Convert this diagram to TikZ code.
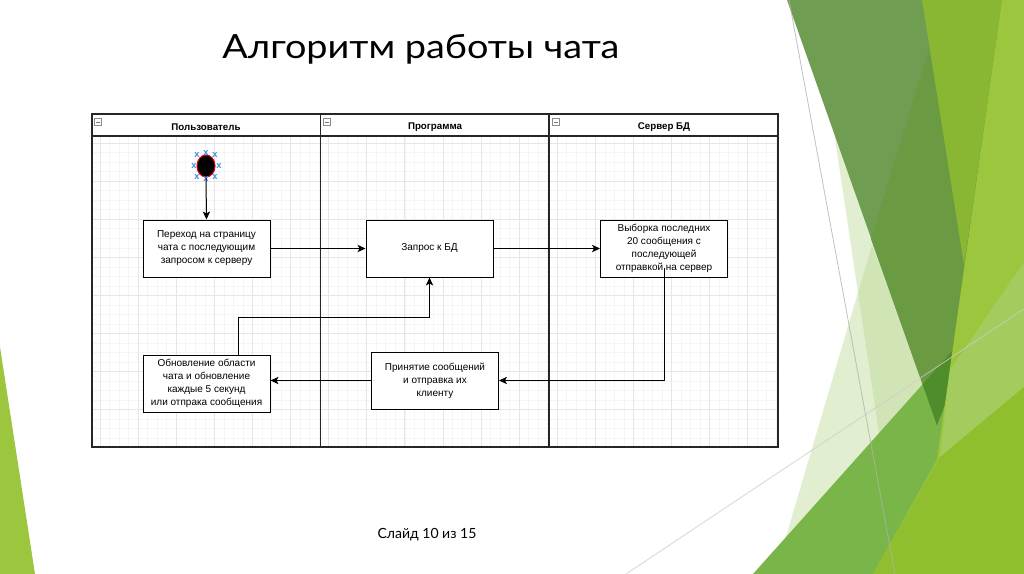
\documentclass[tikz,border=0pt]{standalone}
\usepackage{fontspec}
\usepackage{graphicx}
\setmainfont{Liberation Sans}
\newfontfamily\titlefont{Lato}
\usetikzlibrary{arrows.meta,calc,shapes.geometric}
\definecolor{olive}{HTML}{6F9D51}
\definecolor{oliveB}{HTML}{6A9A41}
\definecolor{darkest}{HTML}{4F8D2B}
\definecolor{medgreen}{HTML}{79B548}
\definecolor{ygreen}{HTML}{8AB733}
\definecolor{lime}{HTML}{9CC63D}
\definecolor{limeL}{HTML}{A4CB5E}
\definecolor{limeD}{HTML}{8FBF2F}
\definecolor{paleG}{RGB}{190,218,150}
\definecolor{gridmaj}{HTML}{E6E6E6}
\definecolor{gridmin}{HTML}{F5F5F5}
\definecolor{xblue}{HTML}{3A8EE6}
\tikzset{
  lane/.style={draw=black!85, line width=0.8pt},
  boxn/.style={draw=black, line width=0.75pt, fill=white, minimum width=95.25pt, minimum height=42.75pt, inner sep=1pt, align=center, font=\fontsize{7.5}{9.75}\selectfont},
  hdr/.style={font=\fontsize{7.3}{9}\selectfont\bfseries, inner sep=0pt},
  icon/.style={draw=black!45, fill=white, line width=0.4pt, minimum size=5pt, inner sep=0pt,
    path picture={\draw[black!55, line width=0.5pt] ([xshift=1.2pt]path picture bounding box.west) -- ([xshift=-1.2pt]path picture bounding box.east);}},
  arr/.style={draw=black, line width=0.75pt, -{Stealth[length=6pt,width=5.5pt,inset=1.5pt]}},
  xmark/.style={text=xblue, font=\fontsize{7}{7}\selectfont\bfseries, inner sep=0pt},
}
\begin{document}
\begin{tikzpicture}[x=0.75pt,y=-0.75pt]
\useasboundingbox (0,0) rectangle (1024,574);
\fill[white] (0,0) rectangle (1024,574);
% ---------- decorative green shapes ----------
\begin{scope}
\clip (0,0) rectangle (1024,574);
\fill[paleG, fill opacity=0.45] (833,125) -- (900,574) -- (1000,574) -- (937,425) -- cycle;
\fill[paleG, fill opacity=0.45] (775,574) -- (872,245) -- (940,425) -- (900,574) -- cycle;
\fill[medgreen] (753,574) -- (1024,271) -- (1024,574) -- cycle;
\fill[olive] (787,0) -- (1024,0) -- (1024,200) -- (937,425) -- cycle;
\fill[oliveB] (944,0) -- (871,239) -- (937,425) -- (1024,200) -- (1024,0) -- cycle;
\begin{scope}
\clip (787,0) -- (1024,0) -- (1024,200) -- (937,425) -- cycle;
\fill[darkest] (753,574) -- (1024,271) -- (1024,574) -- cycle;
\end{scope}
\fill[ygreen] (922,0) -- (1002,0) -- (964,265) -- cycle;
\fill[lime] (1002,0) -- (1024,0) -- (1024,574) -- (873,574) -- (937,460) -- cycle;
\fill[limeL] (950,370) -- (1024,262) -- (1024,387) -- (940,457) -- cycle;
\fill[limeD] (873,574) -- (940,457) -- (1024,387) -- (1024,574) -- cycle;
\fill[lime] (0,347) -- (35,574) -- (0,574) -- cycle;
\draw[black!30, line width=0.6pt, opacity=0.8] (789,0) -- (895,574);
\draw[black!20, line width=0.6pt, opacity=0.8] (626,574) -- (1024,309);
\end{scope}
% ---------- title and caption ----------
\node[anchor=base west, inner sep=0pt, font=\titlefont\fontsize{25}{30}\selectfont] (title) at (222,59) {\scalebox{1.135}[1]{Алгоритм работы чата}};
\node[anchor=base, inner sep=0pt, font=\titlefont\fontsize{10.5}{12}\selectfont] (caption) at (427,538) {Слайд 10 из 15};
% ---------- grid ----------
\begin{scope}
\clip (92,136) rectangle (778,447);
\foreach \i in {-4,...,40} {
  \draw[gridmin, line width=0.4pt] (92,{143+\i*9.525}) -- (778,{143+\i*9.525});
}
\foreach \i in {-4,...,76} {
  \draw[gridmin, line width=0.4pt] ({100+\i*9.525},136) -- ({100+\i*9.525},447);
}
\foreach \i in {0,...,8} {
  \draw[gridmaj, line width=0.5pt] (92,{143+\i*38.1}) -- (778,{143+\i*38.1});
}
\foreach \i in {0,...,18} {
  \draw[gridmaj, line width=0.5pt] ({100+\i*38.1},136) -- ({100+\i*38.1},447);
}
\end{scope}
% ---------- swimlanes ----------
\draw[lane] (92,114) rectangle (778,447);
\draw[lane] (92,136) -- (778,136);
\draw[lane] (320.5,114) -- (320.5,447);
\draw[lane] (549,114) -- (549,447);
\node[hdr] (h1) at (206,127) {Пользователь};
\node[hdr] (h2) at (435,127) {Программа};
\node[hdr] (h3) at (664,127) {Сервер БД};
\node[icon] (i1) at (98,122) {};
\node[icon] (i2) at (327,122) {};
\node[icon] (i3) at (556,122) {};
% ---------- start node ----------
\node[ellipse, draw=red!85!black, fill=black, line width=0.8pt, minimum width=13.5pt, minimum height=16.5pt, inner sep=0pt] (start) at (206,166) {};
\foreach \px/\py [count=\k] in {197/155, 206/153, 215/155, 194/166, 219/166, 197/177, 215/177, 206/179} {
  \node[xmark] (xm\k) at (\px,\py) {x};
}
% ---------- boxes ----------
\node[boxn] (b1) at (206.5,248.5) {Переход на страницу\\чата с последующим\\запросом к серверу};
\node[boxn] (b2) at (429.5,248.5) {Запрос к БД};
\node[boxn] (b3) at (664,248.5) {Выборка последних\\20 сообщения с\\последующей\\отправкой на сервер};
\node[boxn] (b4) at (435,380.5) {Принятие сообщений\\и отправка их\\клиенту};
\node[boxn] (b5) at (206.5,383.5) {Обновление области\\чата и обновление\\каждые 5 секунд\\или отпрака сообщения};
% ---------- connectors ----------
\draw[arr] (start.south) -- (b1.north);
\draw[arr] (b1.east) -- (b2.west);
\draw[arr] (b2.east) -- (b3.west);
\draw[arr] ($(b3.south)+(0,-10)$) |- (b4.east);
\draw[arr] (b4.west) -- (b4.west -| b5.east);
\coordinate (b5top) at ($(b5.north west)!0.75!(b5.north east)$);
\draw[arr] (b5top) |- ($(b2.south)+(0,40)$) -- (b2.south);
\end{tikzpicture}
\end{document}
